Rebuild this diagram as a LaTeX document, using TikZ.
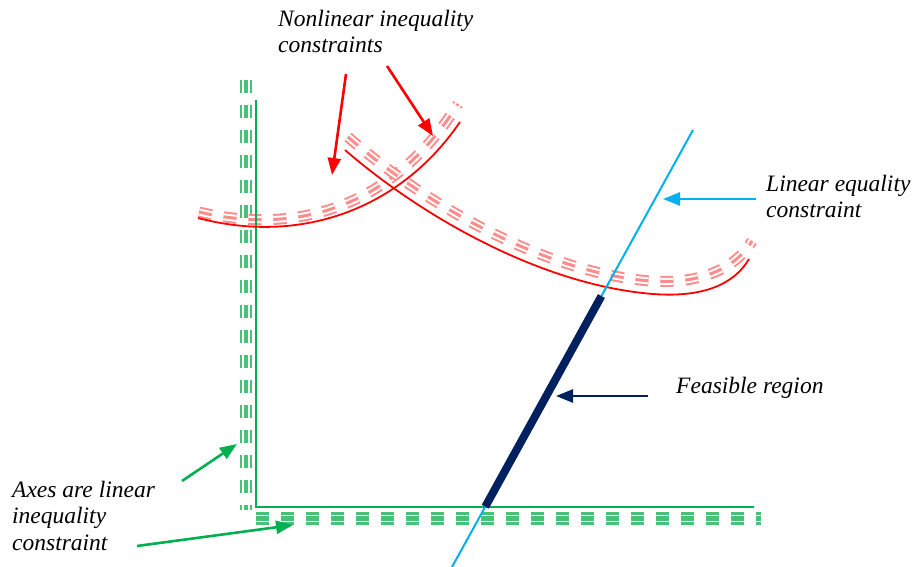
\documentclass[tikz,border=0pt]{standalone}
\usepackage{fontspec}
\setmainfont{Liberation Serif}
\newfontfamily\lblfont{Liberation Serif}
\usetikzlibrary{arrows.meta,calc}
\definecolor{cred}{RGB}{255,0,0}
\definecolor{cpink}{RGB}{255,140,140}
\definecolor{cgreen}{RGB}{0,176,80}
\definecolor{clgreen}{RGB}{70,195,120}
\definecolor{cblue}{RGB}{0,176,240}
\definecolor{cnavy}{RGB}{0,32,96}
\tikzset{
  dpat/.style={dash pattern=on 13pt off 12pt},
  hatchg/.style={dpat, draw=clgreen, line width=12.5pt,
    postaction={draw=white, dpat, line width=7.5pt},
    postaction={draw=clgreen, dpat, line width=4.5pt}},
  hatchr/.style={dpat, draw=cpink, line width=11pt,
    postaction={draw=white, dpat, line width=7pt},
    postaction={draw=cpink, dpat, line width=3pt}},
  lbl/.style={font=\lblfont\fontsize{23.5}{26.5}\selectfont\itshape, align=left, anchor=north west, inner sep=0pt},
  arr/.style={-{Triangle[length=17pt,width=13pt]}, line width=2.6pt},
}
\begin{document}
\begin{tikzpicture}[x=1pt,y=-1pt]
\useasboundingbox (0,0) rectangle (915,567);
% hatched constraint boundaries
\draw[hatchg] (246,80) -- (246,510);
\draw[hatchg] (256,518.5) -- (761,518.5);
\draw[hatchr] (199,212) .. controls (300,236) and (395,205) .. (458,104);
\draw[hatchr] (348,137) .. controls (420,200) and (540,272) .. (650,281) .. controls (705,285) and (738,265) .. (752,241);
% axes
\coordinate (o) at (256,507);
\coordinate (ytop) at (256,100);
\coordinate (xend) at (754,507);
\draw[cgreen, line width=2pt] (ytop) -- (o) -- (xend);
% nonlinear curves
\draw[cred, line width=1.8pt] (198,218) .. controls (300,245) and (400,210) .. (460,122);
\draw[cred, line width=1.8pt] (345,150) .. controls (420,215) and (540,285) .. (653,294) .. controls (705,298) and (735,283) .. (749,259);
% linear equality and feasible region
\coordinate (bt) at (693,130);
\coordinate (bb) at (452,567);
\draw[cblue, line width=2pt] (bt) -- (bb);
\coordinate (f1) at ($(bt)!0.38!(bb)$);
\coordinate (f2) at ($(bt)!0.862!(bb)$);
\draw[cnavy, line width=8pt] (f1) -- (f2);
% labels
\node[lbl] (nl) at (278,9.5) {Nonlinear inequality\\constraints};
\node[lbl] (le) at (766,174.5) {Linear equality\\constraint};
\node[lbl] (fr) at (676,376.5) {Feasible region};
\node[lbl] (ax) at (12,480.5) {Axes are linear\\inequality\\constraint};
% arrow points
\coordinate (r1s) at (346,74);
\coordinate (r1t) at (332,175);
\coordinate (r2s) at (387,66);
\coordinate (r2t) at (433,136);
\coordinate (bls) at (756,199);
\coordinate (blt) at (663,199);
\coordinate (fs) at (648,396);
\coordinate (ft) at (556,396);
\coordinate (g1s) at (182,481);
\coordinate (g1t) at (237,444);
\coordinate (g2s) at (137,546);
\coordinate (g2t) at (293,525);
\draw[arr, cred] (r1s) -- (r1t);
\draw[arr, cred] (r2s) -- (r2t);
\draw[arr, cblue] (bls) -- (blt);
\draw[arr, cnavy] (fs) -- (ft);
\draw[arr, cgreen] (g1s) -- (g1t);
\draw[arr, cgreen] (g2s) -- (g2t);
\end{tikzpicture}
\end{document}
